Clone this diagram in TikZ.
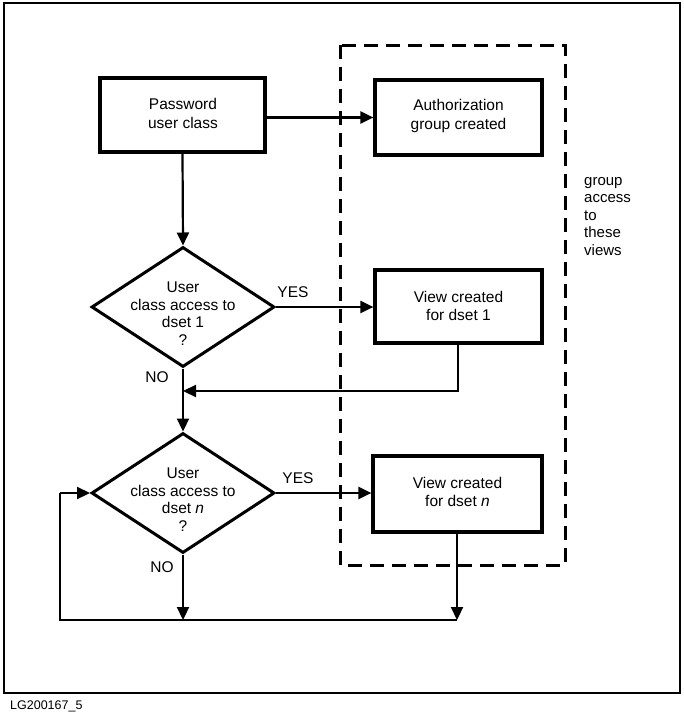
\documentclass[tikz,border=0pt]{standalone}
\usepackage{fontspec}
\setmainfont{Liberation Sans}
\usetikzlibrary{arrows.meta,shapes.geometric}
\begin{document}
\begin{tikzpicture}[x=1pt,y=-1pt,
  box/.style={draw,line width=3.2pt,rectangle,inner sep=0pt},
  dia/.style={draw,line width=3pt,diamond,inner sep=0pt,minimum width=183pt,minimum height=120pt},
  txt/.style={font=\fontsize{15.5}{18.5}\selectfont,align=center,inner sep=0pt},
  lbl/.style={font=\fontsize{15.5}{18}\selectfont,inner sep=0pt},
  conn/.style={line width=2.2pt},
  arr/.style={line width=2.2pt,-{Triangle[length=13pt,width=12pt]}},
  grp/.style={draw,line width=3pt,dash pattern=on 14pt off 8pt}]
\useasboundingbox (0,0) rectangle (684,720);
\draw[line width=2.4pt] (4,3) rectangle (680,693);
\node[font=\fontsize{12.5}{14}\selectfont,anchor=west,inner sep=0pt] (fig) at (10,706) {LG200167\_5};
% group dashed box
\draw[grp] (340,45) rectangle (565,565);
\node[txt,align=left,anchor=north west,font=\fontsize{15}{17.5}\selectfont] (gtxt) at (584,177) {group\\access\\to\\these\\views};
% nodes
\node[box,minimum width=165pt,minimum height=74pt] (pw) at (182.5,115) {};
\node[txt] at (183,113.5) {Password\\user class};
\node[box,minimum width=167pt,minimum height=75pt] (auth) at (458.5,117.5) {};
\node[txt] at (458.5,116) {Authorization\\group created};
\node[dia] (d1) at (183,307) {};
\node[txt,font=\fontsize{15.5}{17.5}\selectfont] at (183,313.5) {User\\class access to\\dset 1\\?};
\node[box,minimum width=167pt,minimum height=73pt] (v1) at (458.5,306.5) {};
\node[txt] at (458.5,306) {View created\\for dset 1};
\node[dia] (d2) at (183,493) {};
\node[txt,font=\fontsize{15.5}{17.5}\selectfont] at (183,499.5) {User\\class access to\\dset \textit{n}\\?};
\node[box,minimum width=169pt,minimum height=76pt] (vn) at (457.5,494) {};
\node[txt] at (457.5,492) {View created\\for dset \textit{n}};
% labels
\node[lbl] (yes1) at (293,292) {YES};
\node[lbl] (no1) at (157,377) {NO};
\node[lbl] (yes2) at (298,478) {YES};
\node[lbl] (no2) at (162,567) {NO};
% coordinates
\coordinate (m1) at (183,391);
\coordinate (v1b) at (458,391);
\coordinate (bn) at (183,620);
\coordinate (bv) at (457,620);
\coordinate (bl) at (60,620);
\coordinate (tl) at (60,493);
% connectors
\draw[arr] (pw.east |- auth.west) -- (auth.west);
\draw[arr] (pw.south) -- (d1.north);
\draw[arr] (d1.east) -- (v1.west |- d1.east);
\draw[arr] (v1.south -| v1b) -- (v1b) -- (m1);
\draw[arr] (d1.south) -- (d2.north);
\draw[arr] (d2.east) -- (vn.west |- d2.east);
\draw[arr] (d2.south) -- (bn);
\draw[arr] (vn.south -| bv) -- (bv);
\draw[conn] (bv) -- (bl) -- (tl);
\draw[arr] (tl) -- (d2.west);
\end{tikzpicture}
\end{document}
